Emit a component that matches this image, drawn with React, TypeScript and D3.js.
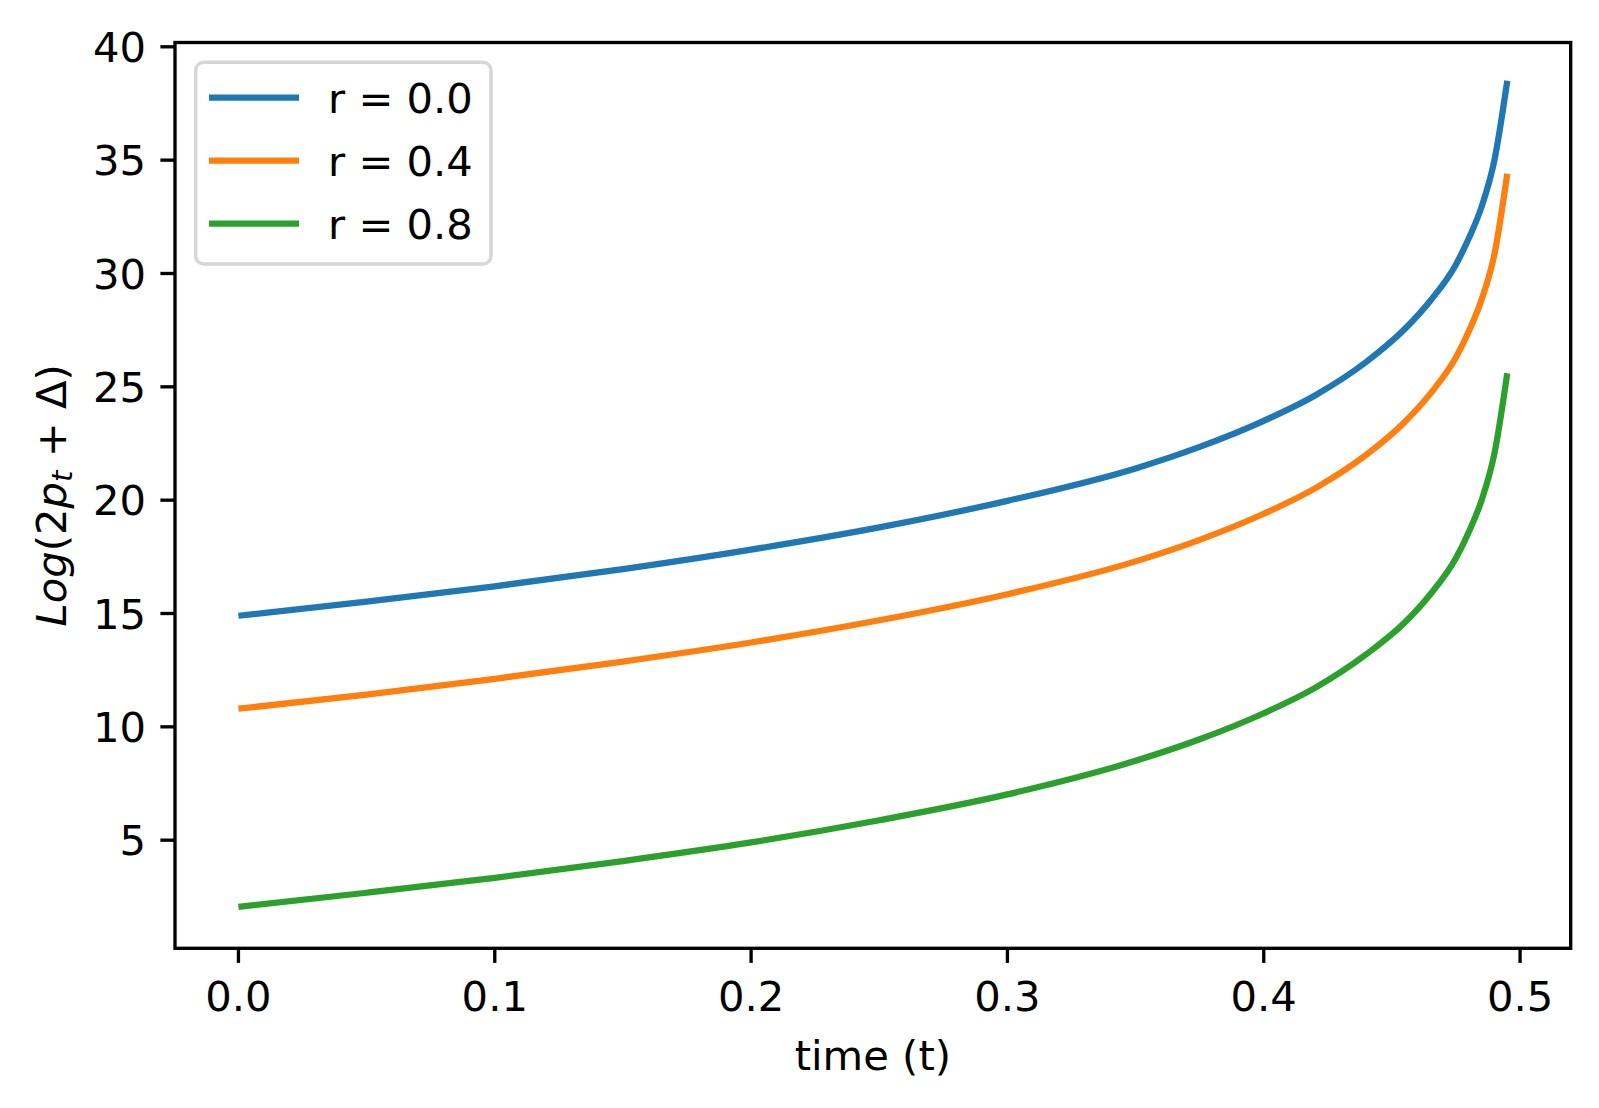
import * as d3 from 'd3';

const times = [0, 0.05, 0.1, 0.15, 0.2, 0.25, 0.3, 0.35, 0.375, 0.4, 0.42, 0.44, 0.455, 0.465, 0.475, 0.48, 0.485, 0.49, 0.495];
const r00 = [14.9, 15.52, 16.2, 16.96, 17.82, 18.8, 19.97, 21.4, 22.35, 23.5, 24.62, 26.1, 27.55, 28.8, 30.4, 31.55, 32.95, 35.0, 38.5];
const r04 = [10.8, 11.42, 12.12, 12.88, 13.72, 14.7, 15.85, 17.3, 18.25, 19.4, 20.52, 22.0, 23.45, 24.7, 26.3, 27.45, 28.85, 30.85, 34.4];
const r08 = [2.06, 2.68, 3.34, 4.08, 4.9, 5.88, 7.02, 8.5, 9.45, 10.6, 11.72, 13.2, 14.6, 15.85, 17.45, 18.6, 20.0, 22.06, 25.6];

const seriesNames = ['r = 0.0', 'r = 0.4', 'r = 0.8'];
const seriesValues = [r00, r04, r08];
const colors = ['#1f77b4', '#ff7f0e', '#2ca02c'];

const xTicks = [0, 0.1, 0.2, 0.3, 0.4, 0.5];
const yTicks = [5, 10, 15, 20, 25, 30, 35, 40];

const W = 1599;
const H = 1108;
const left = 175;
const right = 1570.7;
const top = 42.5;
const bottom = 948.3;
const font = 'DejaVu Sans';
const fs = 41.7;

export default function App() {
  const x = d3.scaleLinear().domain([-0.02475, 0.51975]).range([left, right]);
  const y = d3.scaleLinear().domain([0.23, 40.19]).range([bottom, top]);

  const line = d3
    .line<[number, number]>()
    .x(d => x(d[0]))
    .y(d => y(d[1]))
    .curve(d3.curveMonotoneX);

  const cx = (left + right) / 2;
  const cy = (top + bottom) / 2;

  return (
    <svg
      width={W}
      height={H}
      style={{ position: 'absolute', left: 0, top: 0, background: '#fff' }}
      fontFamily={font}
    >
      <rect x={0} y={0} width={W} height={H} fill="#fff" />

      {seriesValues.map((vals, i) => (
        <path
          key={seriesNames[i]}
          d={line(times.map((t, j) => [t, vals[j]]) as [number, number][]) || ''}
          fill="none"
          stroke={colors[i]}
          strokeWidth={6.25}
          strokeLinejoin="round"
        />
      ))}

      {/* frame */}
      <rect x={left} y={top} width={right - left} height={bottom - top} fill="none" stroke="#000" strokeWidth={3.33} />

      {/* x axis */}
      {xTicks.map(t => (
        <g key={'x' + t}>
          <line x1={x(t)} x2={x(t)} y1={bottom} y2={bottom + 14.6} stroke="#000" strokeWidth={3.33} />
          <text x={x(t)} y={1010.7} fontSize={fs} textAnchor="middle" fill="#000">
            {t.toFixed(1)}
          </text>
        </g>
      ))}
      <text x={cx} y={1070} fontSize={fs} textAnchor="middle" fill="#000">
        time (t)
      </text>

      {/* y axis */}
      {yTicks.map(v => (
        <g key={'y' + v}>
          <line x1={left - 14.6} x2={left} y1={y(v)} y2={y(v)} stroke="#000" strokeWidth={3.33} />
          <text x={146} y={y(v) + 15.2} fontSize={fs} textAnchor="end" fill="#000">
            {v}
          </text>
        </g>
      ))}
      <text transform={`translate(66,${cy}) rotate(-90)`} fontSize={fs} textAnchor="middle" fill="#000">
        <tspan fontStyle="italic">Log</tspan>
        <tspan>(2</tspan>
        <tspan fontStyle="italic">p</tspan>
        <tspan fontStyle="italic" fontSize={fs * 0.7} dy={6}>t</tspan>
        <tspan dy={-6}> + Δ)</tspan>
      </text>

      {/* legend */}
      <rect x={195.7} y={62.3} width={295.3} height={201.7} rx={8} ry={8} fill="#fff" fillOpacity={0.8} stroke="#d6d6d6" strokeWidth={3.4} />
      {seriesNames.map((name, i) => {
        const ly = 97.7 + i * 63;
        return (
          <g key={'lg' + name}>
            <line x1={209} x2={299} y1={ly} y2={ly} stroke={colors[i]} strokeWidth={6.25} />
            <text x={328} y={ly + 15.6} fontSize={fs} fill="#000">
              {name}
            </text>
          </g>
        );
      })}
    </svg>
  );
}
